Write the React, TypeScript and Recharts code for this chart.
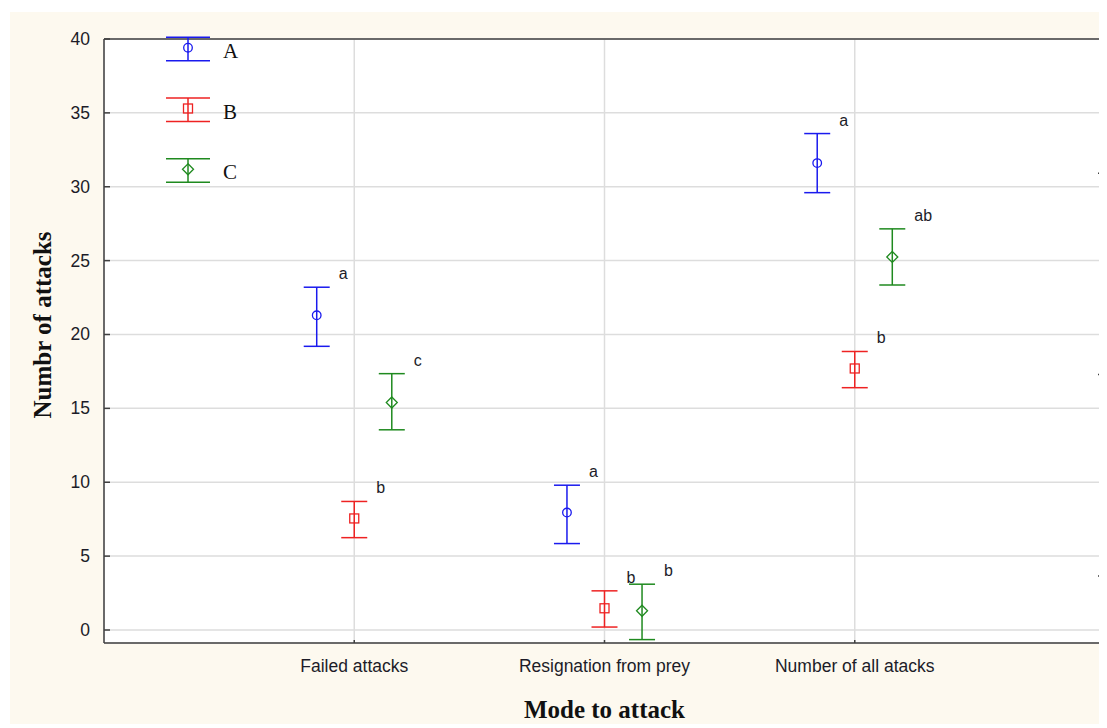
import React from "react";
import { ScatterChart, Scatter, XAxis, YAxis, CartesianGrid, ErrorBar, ReferenceLine, Label } from "recharts";

const categories = ["Failed attacks", "Resignation from prey", "Number of all atacks"];
const seriesNames = ["A", "B", "C"];

const meanA = [21.3, 7.95, 31.6];
const lowA = [19.2, 5.85, 29.6];
const highA = [23.2, 9.8, 33.6];
const lettersA = ["a", "a", "a"];

const meanB = [7.55, 1.47, 17.7];
const lowB = [6.25, 0.2, 16.4];
const highB = [8.7, 2.65, 18.85];
const lettersB = ["b", "b", "b"];

const meanC = [15.4, 1.3, 25.25];
const lowC = [13.55, -0.65, 23.35];
const highC = [17.35, 3.1, 27.15];
const lettersC = ["c", "b", "ab"];

const yTicks = [0, 5, 10, 15, 20, 25, 30, 35, 40];
const xTicks = [1, 2, 3];
const rightTicks = [1, 2, 3, 4, 5, 6, 7, 8];

const colors = ["#1a1aee", "#ee2222", "#1f8a1f"];
const offsets = [-0.15, 0, 0.15];
const axisColor = "#404040";
const textColor = "#1c1c28";

const build = (mean: number[], low: number[], high: number[], letters: string[], k: number) =>
  mean.map((m, i) => ({
    x: i + 1 + offsets[k],
    y: m,
    err: [m - low[i], high[i] - m],
    top: high[i],
    letter: letters[i],
  }));

const series = [
  build(meanA, lowA, highA, lettersA, 0),
  build(meanB, lowB, highB, lettersB, 1),
  build(meanC, lowC, highC, lettersC, 2),
];

const marker = (k: number, cx: number, cy: number) => {
  const c = colors[k];
  if (k === 0) return <circle cx={cx} cy={cy} r={4.3} fill="none" stroke={c} strokeWidth={1.3} />;
  if (k === 1) return <rect x={cx - 4.5} y={cy - 4.5} width={9} height={9} fill="none" stroke={c} strokeWidth={1.3} />;
  return (
    <path
      d={`M${cx},${cy - 5.5}L${cx + 5.5},${cy}L${cx},${cy + 5.5}L${cx - 5.5},${cy}Z`}
      fill="none"
      stroke={c}
      strokeWidth={1.3}
    />
  );
};

const LeftTick = (p: any) => (
  <g>
    <line x1={p.x} y1={p.y} x2={p.x + 6} y2={p.y} stroke={axisColor} strokeWidth={1.5} />
    <text x={p.x - 14} y={p.y + 6} textAnchor="end" fontSize={17.5} fontFamily="Liberation Sans" fill={textColor}>
      {p.payload.value}
    </text>
  </g>
);

// right-hand frame: unlabelled ticks, every third one longer
const RightTick = (p: any) => {
  const len = (p.payload.value - 1) % 3 === 0 ? 7 : 5;
  return (
    <g>
      <line x1={p.x - len} y1={p.y} x2={p.x} y2={p.y} stroke={axisColor} strokeWidth={1.5} />
    </g>
  );
};

const BottomTick = (p: any) => (
  <g>
    <line x1={p.x} y1={p.y} x2={p.x} y2={p.y - 3} stroke={axisColor} strokeWidth={1.5} />
    <text x={p.x} y={p.y + 29} textAnchor="middle" fontSize={17.5} fontFamily="Liberation Sans" fill={textColor}>
      {categories[p.payload.value - 1]}
    </text>
  </g>
);

const LegendOverlay = () => (
  <svg width={300} height={200} style={{ position: "absolute", left: 0, top: 0, pointerEvents: "none" }}>
    {seriesNames.map((name, k) => {
      const y0 = 35.7 + 60.8 * k;
      const c = colors[k];
      return (
        <g key={name}>
          <line x1={178} y1={y0 - 10.5} x2={178} y2={y0 + 13} stroke={c} strokeWidth={1.5} />
          <line x1={156} y1={y0 - 10.5} x2={200} y2={y0 - 10.5} stroke={c} strokeWidth={1.5} />
          <line x1={156} y1={y0 + 13} x2={200} y2={y0 + 13} stroke={c} strokeWidth={1.5} />
          {marker(k, 178, y0)}
          <text x={213} y={y0 + 10} fontSize={21} fontFamily="Liberation Serif" fill="#111">
            {name}
          </text>
        </g>
      );
    })}
  </svg>
);

export default function App() {
  return (
    <div style={{ position: "relative", left: 2, top: 4, width: 1097, height: 716, background: "#fdf9ef" }}>
      <ScatterChart width={1097} height={716} margin={{ top: 27, right: 0, left: 0, bottom: 0 }}>
        <CartesianGrid yAxisId="left" stroke="#dddddd" strokeWidth={1.5} fill="#ffffff" fillOpacity={1} />
        <XAxis
          type="number"
          dataKey="x"
          domain={[0, 4]}
          ticks={xTicks}
          interval={0}
          height={85}
          tickSize={0}
          tickMargin={0}
          tickLine={false}
          axisLine={{ stroke: axisColor, strokeWidth: 1.5 }}
          tick={BottomTick}
        >
          <Label
            content={(props: any) => {
              const vb = props.viewBox;
              return (
                <text
                  x={vb.x + vb.width / 2}
                  y={vb.y + 75}
                  textAnchor="middle"
                  fontSize={25}
                  fontWeight="bold"
                  fontFamily="Liberation Serif"
                  fill="#111"
                >
                  Mode to attack
                </text>
              );
            }}
          />
        </XAxis>
        <YAxis
          yAxisId="left"
          type="number"
          dataKey="y"
          domain={[-0.88, 40]}
          ticks={yTicks}
          interval={0}
          width={94}
          tickSize={0}
          tickMargin={0}
          tickLine={false}
          allowDataOverflow
          axisLine={{ stroke: axisColor, strokeWidth: 1.5 }}
          tick={LeftTick}
        >
          <Label
            content={(props: any) => {
              const vb = props.viewBox;
              const cy = vb.y + vb.height / 2 - 16;
              return (
                <text
                  x={32}
                  y={cy}
                  transform={`rotate(-90 32 ${cy})`}
                  textAnchor="middle"
                  dominantBaseline="central"
                  fontSize={25}
                  fontWeight="bold"
                  fontFamily="Liberation Serif"
                  fill="#111"
                >
                  Numbr of attacks
                </text>
              );
            }}
          />
        </YAxis>
        <YAxis
          yAxisId="right"
          orientation="right"
          type="number"
          domain={[0, 9]}
          ticks={rightTicks}
          interval={0}
          allowDataOverflow
          width={2}
          tickSize={0}
          tickMargin={0}
          tickLine={false}
          axisLine={{ stroke: axisColor, strokeWidth: 1.5 }}
          tick={RightTick}
        />
        <ReferenceLine yAxisId="left" y={40} stroke={axisColor} strokeWidth={1.5} />
        {series.map((rows, k) => (
          <Scatter
            key={seriesNames[k]}
            name={seriesNames[k]}
            yAxisId="left"
            data={rows}
            isAnimationActive={false}
            shape={(p: any) => marker(k, p.cx, p.cy)}
          >
            <ErrorBar dataKey="err" direction="y" width={13} stroke={colors[k]} strokeWidth={1.5} />
          </Scatter>
        ))}
        {series.map((rows, k) => (
          <Scatter
            key={"lbl" + seriesNames[k]}
            yAxisId="left"
            data={rows.map((r) => ({ x: r.x, y: r.top, letter: r.letter }))}
            isAnimationActive={false}
            shape={(p: any) => (
              <text x={p.cx + 22} y={p.cy - 8} fontSize={16} fontFamily="Liberation Sans" fill={textColor}>
                {p.payload.letter}
              </text>
            )}
          />
        ))}
      </ScatterChart>
      <LegendOverlay />
    </div>
  );
}
